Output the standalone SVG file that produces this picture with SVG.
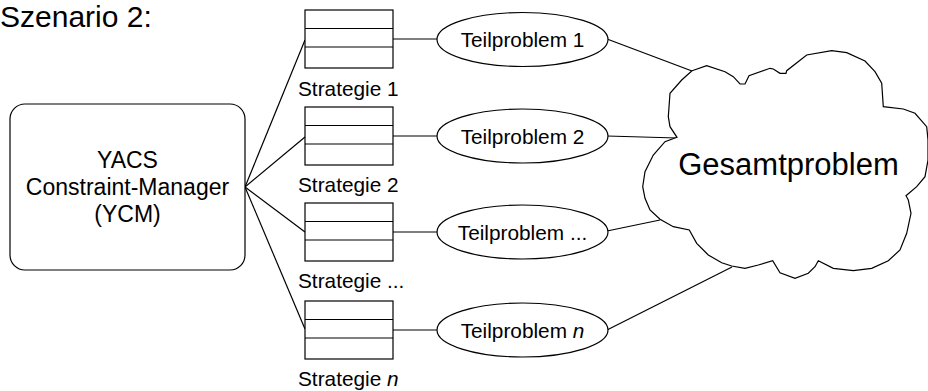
<svg xmlns="http://www.w3.org/2000/svg" width="928" height="391" viewBox="0 0 928 391">
<style>
.ln{stroke:#000;stroke-width:1.2;fill:none}
.sh{stroke:#000;stroke-width:1.2;fill:#fff}
.t{font-family:"Liberation Sans",Arial,sans-serif;fill:#000}
.s{font-size:20.8px}
.m{text-anchor:middle}
</style>
<rect width="928" height="391" fill="#fff"/>
<text id="title" class="t" x="0" y="27" font-size="30">Szenario 2:</text>
<g id="connectors">
<line class="ln" x1="245" y1="187" x2="305" y2="40"/>
<line class="ln" x1="245" y1="187" x2="305" y2="137"/>
<line class="ln" x1="245" y1="187" x2="305" y2="232"/>
<line class="ln" x1="245" y1="187" x2="305" y2="329"/>
<line class="ln" x1="393" y1="39" x2="437" y2="39"/>
<line class="ln" x1="393" y1="136" x2="437" y2="136"/>
<line class="ln" x1="393" y1="232" x2="437" y2="232"/>
<line class="ln" x1="393" y1="330" x2="437" y2="330"/>
<line class="ln" x1="607" y1="39" x2="692" y2="71"/>
<line class="ln" x1="607" y1="136" x2="677" y2="138"/>
<line class="ln" x1="607" y1="231" x2="660" y2="220"/>
<line class="ln" x1="607" y1="330" x2="732" y2="267"/>
</g>
<g id="ycm">
<rect class="sh" x="10" y="104" width="235" height="166" rx="15" ry="15"/>
<text class="t m" x="127.5" font-size="23"><tspan x="127.5" y="168">YACS</tspan><tspan x="127.5" y="195">Constraint-Manager</tspan><tspan x="127.5" y="222">(YCM)</tspan></text>
</g>
<g id="strategie1">
<rect class="sh" x="305" y="10" width="88" height="58"/>
<line class="ln" x1="305" y1="28.5" x2="393" y2="28.5"/>
<line class="ln" x1="305" y1="47" x2="393" y2="47"/>
<text class="t s" x="298" y="96">Strategie 1</text>
</g>
<g id="strategie2">
<rect class="sh" x="305" y="107" width="88" height="58"/>
<line class="ln" x1="305" y1="125.5" x2="393" y2="125.5"/>
<line class="ln" x1="305" y1="144" x2="393" y2="144"/>
<text class="t s" x="298" y="192">Strategie 2</text>
</g>
<g id="strategie3">
<rect class="sh" x="305" y="203" width="88" height="58"/>
<line class="ln" x1="305" y1="221.5" x2="393" y2="221.5"/>
<line class="ln" x1="305" y1="240" x2="393" y2="240"/>
<text class="t s" x="298" y="288">Strategie ...</text>
</g>
<g id="strategien">
<rect class="sh" x="305" y="301" width="88" height="58"/>
<line class="ln" x1="305" y1="319.5" x2="393" y2="319.5"/>
<line class="ln" x1="305" y1="338" x2="393" y2="338"/>
<text class="t s" x="298" y="386">Strategie <tspan font-style="italic">n</tspan></text>
</g>
<g id="teilproblem1">
<ellipse class="sh" cx="522.5" cy="39.5" rx="85.5" ry="27"/>
<text class="t s m" x="522.5" y="47">Teilproblem 1</text>
</g>
<g id="teilproblem2">
<ellipse class="sh" cx="522.5" cy="136" rx="85.5" ry="27"/>
<text class="t s m" x="522.5" y="143.5">Teilproblem 2</text>
</g>
<g id="teilproblem3">
<ellipse class="sh" cx="522.5" cy="232" rx="85.5" ry="27"/>
<text class="t s m" x="522.5" y="239.5">Teilproblem ...</text>
</g>
<g id="teilproblemn">
<ellipse class="sh" cx="522.5" cy="330" rx="85.5" ry="27"/>
<text class="t s m" x="522.5" y="337.5">Teilproblem <tspan font-style="italic">n</tspan></text>
</g>
<g id="gesamtproblem">
<path class="sh" d="M692,70.7 L706.7,65.7 L725,71.7 L733.3,76.7 L740,84 L745,84 L749,75.7 L770,68.3 L773.3,69 L780,73.3 L786,73.3 L786.7,70.7 L806.7,55 L831.7,50.7 L846.7,52.7 L865,61 L875,71.7 L881.7,83.3 L883.3,106.7 L903.3,109 L915,113.3 L926.7,126.7 L928,140 L928,160 L925,176.7 L916.7,186.7 L906,195.7 L908.3,200 L911,213.3 L906.7,233.3 L900,250 L888.3,260.7 L871.7,268.3 L853.3,270.7 L833.3,268.3 L818.3,260.7 L815,266.7 L808.3,273.3 L795,278.3 L780,272.7 L772.7,260.7 L758.3,265 L745,268.3 L731.7,266 L721.7,262.7 L708.3,255 L696.7,243.3 L689.3,230 L673.3,226.7 L660,219.3 L650,210 L645,198.3 L642.7,186.7 L645,171.7 L653.3,155 L665,141.7 L677,137.3 L670,126.7 L668.3,116.7 L670,93.3 L681.7,80 Z"/>
<text class="t m" x="788.5" y="175" font-size="31">Gesamtproblem</text>
</g>
</svg>
